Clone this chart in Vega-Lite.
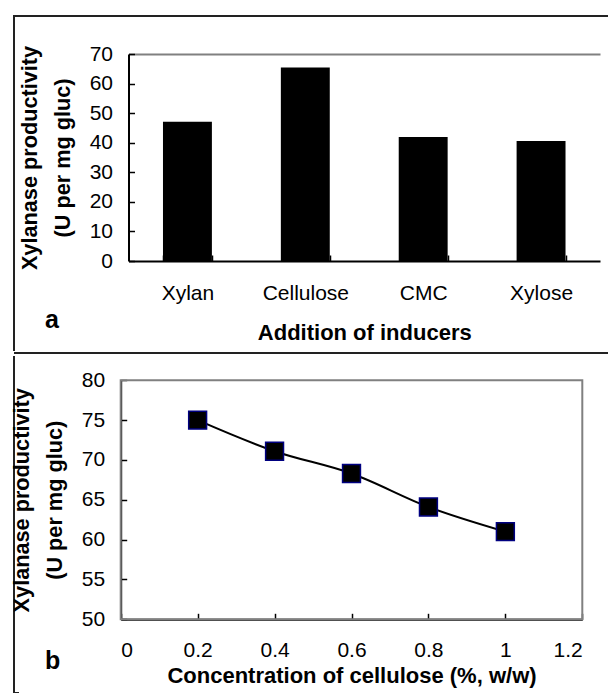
{
  "$schema": "https://vega.github.io/schema/vega-lite/v6.json",
  "padding": {"left": 10, "top": 15, "right": 0, "bottom": 0},
  "spacing": 0,
  "config": {
    "font": "Liberation Sans",
    "view": {"stroke": "#222222", "strokeWidth": 2, "strokeDash": [597, 932, 342, 10]},
    "axis": {
      "labelFont": "Liberation Sans", "labelFontSize": 21, "labelColor": "#000000",
      "titleFont": "Liberation Sans", "titleFontSize": 22, "titleFontWeight": "bold", "titleColor": "#000000",
      "domainColor": "#000000", "domainWidth": 2, "tickColor": "#000000", "tickWidth": 1.5,
      "tickSize": -6, "grid": false, "zindex": 1
    }
  },
  "vconcat": [
    {
      "width": 597,
      "height": 335,
      "title": {"text": "a", "orient": "bottom", "anchor": "start", "frame": "group", "offset": -23, "dx": 31, "fontSize": 25, "fontWeight": "bold", "baseline": "alphabetic", "font": "Liberation Sans", "color": "#000000"},
      "data": {"values": [
        {"inducer": "Xylan", "productivity": 47.1},
        {"inducer": "Cellulose", "productivity": 65.4},
        {"inducer": "CMC", "productivity": 41.9},
        {"inducer": "Xylose", "productivity": 40.6}
      ]},
      "mark": {"type": "bar", "color": "#000000"},
      "encoding": {
        "x": {
          "field": "inducer", "type": "nominal", "sort": null,
          "scale": {"range": [114.5, 586], "paddingInner": 0.585, "paddingOuter": 0.2925},
          "axis": {"orient": "bottom", "offset": -90, "tickBand": "extent", "labelAngle": 0, "labelPadding": 27, "title": "Addition of inducers", "titlePadding": 19}
        },
        "y": {
          "field": "productivity", "type": "quantitative",
          "scale": {"domain": [0, 70], "range": [245, 38], "nice": false},
          "axis": {"orient": "left", "offset": -114.5, "values": [0, 10, 20, 30, 40, 50, 60, 70], "labelPadding": 22, "title": ["Xylanase productivity", "(U per mg gluc)"], "titleFontSize": 21.7, "titleLineHeight": 33, "titlePadding": 15,
            "grid": true, "gridWidth": 2, "gridColor": {"condition": {"test": "datum.value === 70", "value": "#808080"}, "value": "transparent"}}
        }
      }
    },
    {
      "width": 597,
      "height": 340,
      "title": {"text": "b", "orient": "bottom", "anchor": "start", "frame": "group", "offset": -24, "dx": 31, "fontSize": 25, "fontWeight": "bold", "baseline": "alphabetic", "font": "Liberation Sans", "color": "#000000"},
      "layer": [
        {
          "data": {"values": [{"lo": 0, "hi": 1.2, "bottom": 50, "top": 80}]},
          "mark": {"type": "rect", "filled": false, "stroke": "#808080", "strokeWidth": 2},
          "encoding": {
            "x": {"field": "lo", "type": "quantitative"},
            "x2": {"field": "hi"},
            "y": {"field": "bottom", "type": "quantitative"},
            "y2": {"field": "top"}
          }
        },
        {
          "data": {"values": [
            {"concentration": 0.2, "productivity": 75.0},
            {"concentration": 0.4, "productivity": 71.1},
            {"concentration": 0.6, "productivity": 68.3},
            {"concentration": 0.8, "productivity": 64.1},
            {"concentration": 1.0, "productivity": 61.0}
          ]},
          "encoding": {
            "x": {
              "field": "concentration", "type": "quantitative",
              "scale": {"domain": [0, 1.2], "range": [106.7, 568.3], "nice": false, "zero": false},
              "axis": {"orient": "bottom", "offset": -73.7, "values": [0, 0.2, 0.4, 0.6, 0.8, 1, 1.2], "format": "~g", "labelPadding": 26, "title": "Concentration of cellulose (%, w/w)", "titlePadding": 5}
            },
            "y": {
              "field": "productivity", "type": "quantitative",
              "scale": {"domain": [50, 80], "range": [266.3, 27.3], "nice": false, "zero": false},
              "axis": {"orient": "left", "offset": -106.7, "values": [50, 55, 60, 65, 70, 75, 80], "labelPadding": 22, "title": ["Xylanase productivity", "(U per mg gluc)"], "titleFontSize": 21.7, "titleLineHeight": 33, "titlePadding": 15}
            }
          },
          "layer": [
            {
              "mark": {"type": "line", "color": "#000000", "strokeWidth": 2, "interpolate": "catmull-rom"}
            },
            {
              "mark": {"type": "point", "shape": "square", "filled": true, "size": 320, "fill": "#000000", "stroke": "#000080", "strokeWidth": 1.5, "opacity": 1}
            }
          ]
        }
      ]
    }
  ]
}
